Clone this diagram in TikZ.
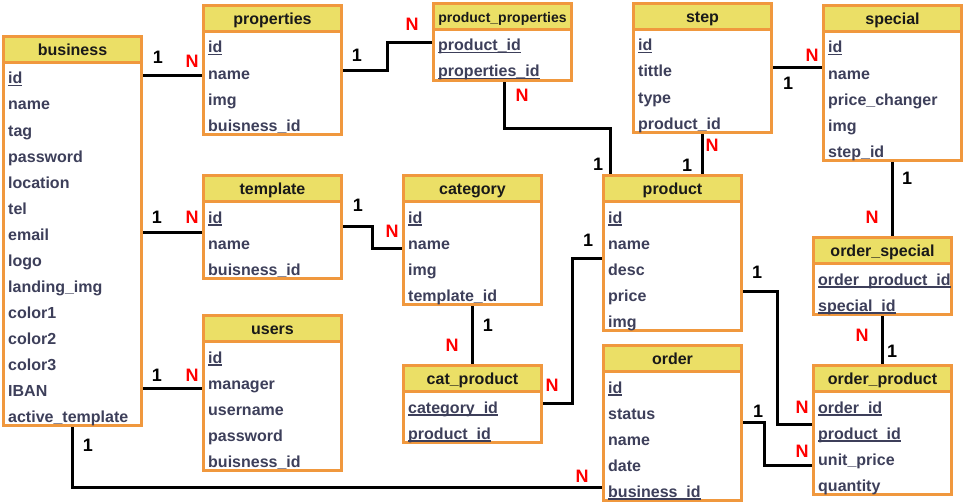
\documentclass[tikz,border=0pt]{standalone}
\usepackage{fontspec}
\setmainfont{Liberation Sans}
\usetikzlibrary{calc}
\definecolor{tblorange}{HTML}{F0983E}
\definecolor{tblyellow}{HTML}{EBDF66}
\definecolor{fieldtxt}{HTML}{3D3F5A}
\definecolor{nred}{HTML}{FF0000}
\pgfdeclarelayer{bg}
\pgfsetlayers{bg,main}
\newcommand\ukey[1]{\setbox0\hbox{#1}\rlap{\rule[-2.5pt]{\wd0}{1.3pt}}\box0}
\tikzset{
  tblbox/.style={draw=tblorange, line width=3pt, minimum width=138pt, inner sep=0pt},
  tblsep/.style={draw=tblorange, line width=3pt},
  tbltitle/.style={font=\fontsize{16}{18}\selectfont\bfseries, text=black!90, text height=13pt, text depth=0pt, inner sep=0pt},
  fieldrow/.style={anchor=west, font=\fontsize{16}{18}\selectfont\bfseries, text=fieldtxt, inner xsep=4.5pt, inner ysep=0pt, text height=16pt, text depth=0pt, minimum height=26pt},
  conn/.style={draw=black, line width=3pt},
  lblone/.style={font=\fontsize{18}{18}\selectfont\bfseries, text=black, inner sep=0pt},
  lblmany/.style={font=\fontsize{18}{18}\selectfont\bfseries, text=nred, inner sep=0pt}
}
% #1 name, #2 left, #3 top, #4 number of fields, #5 title, #6 fields
\newcommand\erTable[6]{%
  \fill[tblyellow] (#2+1.5,#3+1.5) rectangle (#2+139.5,#3+28);
  \node[tblbox, minimum height={25+26*#4}] (#1) at (#2+70.5,#3+14+13*#4) {};
  \draw[tblsep] (#2+1.5,#3+27.5) -- (#2+139.5,#3+27.5);
  \node[tbltitle] (#1-title) at (#2+70.5,#3+14) {#5};
  \foreach \f [count=\i] in {#6} {\node[fieldrow] (#1-\i) at (#2+1.5,#3+15+26*\i) {\f};}
}
\begin{document}
\begin{tikzpicture}[x=1pt,y=-1pt]
\useasboundingbox (0,0) rectangle (964,503);

\erTable{business}{2}{35}{14}{business}{\ukey{id},name,tag,password,location,tel,email,logo,landing\_img,color1,color2,color3,IBAN,active\_template}
\erTable{properties}{202}{4}{4}{properties}{\ukey{id},name,img,buisness\_id}
\erTable{prodprops}{432}{2}{2}{\fontsize{14}{16}\selectfont product\_properties}{\ukey{product\_id},\ukey{properties\_id}}
\erTable{step}{632}{2}{4}{step}{\ukey{id},tittle,type,product\_id}
\erTable{special}{822}{4}{5}{special}{\ukey{id},name,price\_changer,img,step\_id}
\erTable{template}{202}{174}{3}{template}{\ukey{id},name,buisness\_id}
\erTable{category}{402}{174}{4}{category}{\ukey{id},name,img,template\_id}
\erTable{product}{602}{174}{5}{product}{\ukey{id},name,desc,price,img}
\erTable{users}{202}{314}{5}{users}{\ukey{id},manager,username,password,buisness\_id}
\erTable{catprod}{402}{364}{2}{cat\_product}{\ukey{category\_id},\ukey{product\_id}}
\erTable{order}{602}{344}{5}{order}{\ukey{id},status,name,date,\ukey{business\_id}}
\erTable{ordspecial}{812}{236}{2}{order\_special}{\ukey{order\_product\_id},\ukey{special\_id}}
\erTable{ordprod}{812}{364}{4}{order\_product}{\ukey{order\_id},\ukey{product\_id},unit\_price,quantity}

\begin{pgfonlayer}{bg}
\fill[white] (0,0) rectangle (964,503);
\draw[conn] (business-1 -| business.east) -- (business-1 -| properties.west);
\draw[conn] (business-7 -| business.east) -- (business-7 -| template.west);
\draw[conn] (business-13 -| business.east) -- (business-13 -| users.west);
\draw[conn] (business.south) |- ($(order-5 -| order.west)+(0,-1.5)$);
% properties - product_properties
\coordinate (c5a) at (properties-2 -| properties.east);
\coordinate (c5b) at (prodprops-1 -| prodprops.west);
\draw[conn] (c5a) -| ($(c5a)!0.5!(c5b)$) |- (c5b);
% product_properties - product
\coordinate (c6a) at ($(prodprops.south)+(1.5,0)$);
\coordinate (c6b) at ($(product.north west)+(8.5,0)$);
\draw[conn] (c6a) |- ($(c6a)!0.5!(c6b)$) -| (c6b);
% step - product
\draw[conn] (step.south) -- (step.south |- product.north);
% step - special
\coordinate (c8a) at ($(step-2 -| step.east)+(0,-1.5)$);
\draw[conn] (c8a) -- (c8a -| special.west);
% template - category
\coordinate (c9a) at ($(template-1 -| template.east)+(0,11)$);
\coordinate (c9b) at ($(category-2 -| category.west)+(0,7)$);
\draw[conn] (c9a) -| ($(c9a)!0.5!(c9b)$) |- (c9b);
% category - cat_product
\draw[conn] (category.south) -- (catprod.north);
% cat_product - product
\coordinate (c11a) at ($(catprod-1 -| catprod.east)+(0,-2)$);
\coordinate (c11b) at ($(product-3 -| product.west)+(0,-8.5)$);
\draw[conn] (c11a) -| ($(c11a)!0.5!(c11b)$) |- (c11b);
% special - order_special
\draw[conn] (special.south) -- (special.south |- ordspecial.north);
% order_special - order_product
\draw[conn] (ordspecial.south) -- (ordprod.north);
% product - order_product
\coordinate (c14a) at ($(product-4 -| product.east)+(0,-2)$);
\coordinate (c14b) at ($(ordprod-2 -| ordprod.west)+(0,-7)$);
\draw[conn] (c14a) -| ($(c14a)!0.5!(c14b)$) |- (c14b);
% order - order_product
\coordinate (c15a) at ($(order-2 -| order.east)+(0,11)$);
\coordinate (c15b) at ($(ordprod-3 -| ordprod.west)+(0,8)$);
\draw[conn] (c15a) -- ++(21.5,0) |- (c15b);
\end{pgfonlayer}

% cardinality labels
\node[lblone] (l1a) at (158,57) {1};
\node[lblmany] (l1b) at (192,61.5) {N};
\node[lblone] (l2a) at (157,217) {1};
\node[lblmany] (l2b) at (192,217) {N};
\node[lblone] (l3a) at (157,375) {1};
\node[lblmany] (l3b) at (192,375) {N};
\node[lblone] (l4a) at (88,445) {1};
\node[lblmany] (l4b) at (582,476) {N};
\node[lblone] (l5a) at (357,55) {1};
\node[lblmany] (l5b) at (412,24) {N};
\node[lblmany] (l6a) at (522,95) {N};
\node[lblone] (l6b) at (598,164) {1};
\node[lblmany] (l7a) at (712,145) {N};
\node[lblone] (l7b) at (687,165) {1};
\node[lblmany] (l8a) at (812,55) {N};
\node[lblone] (l8b) at (788,83) {1};
\node[lblone] (l9a) at (358,205) {1};
\node[lblmany] (l9b) at (392,231.5) {N};
\node[lblone] (l10a) at (488,325) {1};
\node[lblmany] (l10b) at (452,345) {N};
\node[lblmany] (l11a) at (552,385) {N};
\node[lblone] (l11b) at (588,240) {1};
\node[lblone] (l12a) at (907,178) {1};
\node[lblmany] (l12b) at (872,217) {N};
\node[lblmany] (l13a) at (862,335) {N};
\node[lblone] (l13b) at (892,351) {1};
\node[lblone] (l14a) at (757,272) {1};
\node[lblmany] (l14b) at (802,407) {N};
\node[lblone] (l15a) at (758,411) {1};
\node[lblmany] (l15b) at (802,451) {N};
\end{tikzpicture}
\end{document}
